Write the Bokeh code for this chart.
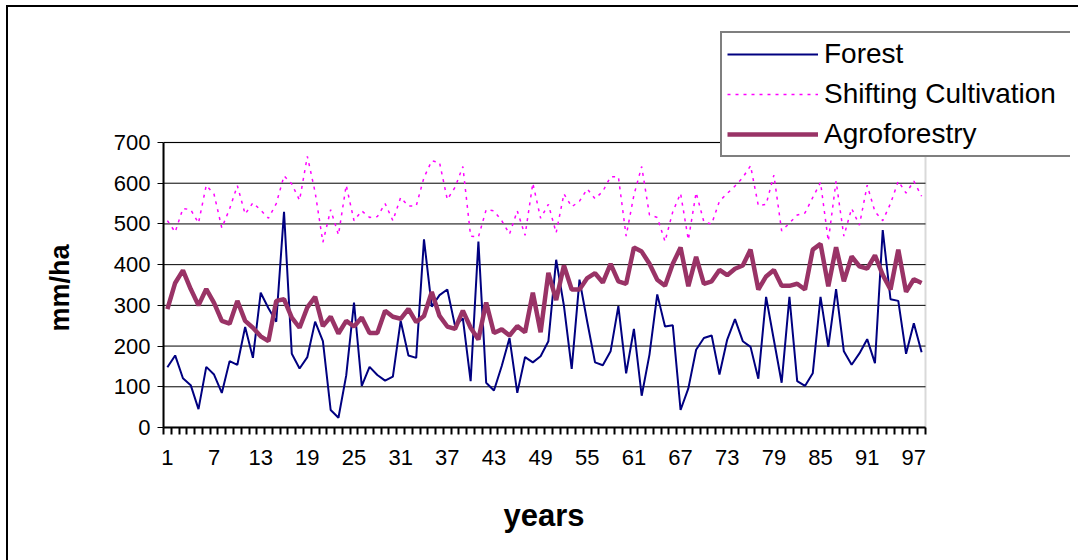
from bokeh.plotting import figure
from bokeh.models import FixedTicker, Legend, LegendItem, Range1d, BoxAnnotation, Title
from bokeh.embed import file_html
from bokeh.resources import INLINE

# Annual water values (mm/ha) for three land-use types over 98 years
years = list(range(1, 99))

forest = [148, 177, 121, 104, 45, 149, 130, 85, 163, 154,
          247, 171, 331, 293, 260, 530, 181, 145, 173, 260,
          212, 43, 24, 128, 307, 102, 149, 129, 115, 125,
          262, 177, 171, 462, 297, 325, 339, 249, 268, 114,
          457, 110, 91, 151, 220, 85, 173, 160, 175, 212,
          412, 299, 144, 363, 259, 160, 153, 187, 298, 133,
          242, 78, 179, 327, 248, 251, 43, 96, 191, 220,
          226, 130, 216, 266, 212, 198, 120, 321, 215, 110,
          321, 114, 102, 133, 321, 198, 340, 187, 154, 182,
          217, 158, 485, 315, 311, 181, 256, 185]

shifting_cultivation = [508, 480, 538, 535, 502, 595, 573, 490, 537, 594,
                        524, 552, 534, 514, 550, 618, 598, 558, 666, 578,
                        455, 535, 473, 595, 508, 532, 516, 518, 550, 508,
                        565, 544, 544, 614, 655, 651, 560, 590, 641, 470,
                        468, 535, 532, 508, 475, 532, 472, 600, 514, 548,
                        478, 574, 542, 556, 586, 562, 580, 616, 616, 470,
                        571, 641, 522, 516, 457, 530, 575, 461, 577, 505,
                        500, 556, 575, 593, 614, 643, 545, 548, 620, 483,
                        502, 522, 527, 565, 602, 458, 605, 470, 538, 497,
                        595, 530, 508, 550, 605, 576, 605, 568]

agroforestry = [291, 355, 386, 340, 300, 340, 306, 262, 255, 311,
                262, 245, 224, 212, 311, 315, 270, 245, 295, 321,
                249, 272, 231, 262, 248, 270, 232, 232, 287, 272,
                267, 291, 259, 274, 333, 274, 248, 242, 287, 245,
                216, 307, 232, 241, 226, 249, 234, 331, 234, 380,
                313, 398, 339, 339, 367, 379, 356, 402, 359, 353,
                442, 432, 402, 363, 348, 402, 442, 347, 419, 353,
                359, 387, 374, 390, 398, 437, 339, 371, 387, 348,
                348, 353, 339, 437, 451, 347, 443, 359, 420, 396,
                390, 423, 375, 339, 437, 333, 364, 355]

year_labels = list(range(1, 98, 6))
value_ticks = [0, 100, 200, 300, 400, 500, 600, 700]

FONT = "Liberation Sans"

# canvas geometry (px); the frame is extended up and to the right so the
# legend, which overlaps the plot area's corner, is not clipped
CANVAS_W, CANVAS_H = 1090, 560
PLOT_LEFT, PLOT_TOP, PLOT_W, PLOT_H = 155, 135, 762, 285
FRAME_TOP, FRAME_RIGHT = 16, 1062
PLOT_BOTTOM = PLOT_TOP + PLOT_H

x_lo = years[0] - 0.5
x_hi = years[-1] + 0.5
y_lo, y_hi = value_ticks[0], value_ticks[-1]
x_end = x_lo + (x_hi - x_lo) * (FRAME_RIGHT - PLOT_LEFT) / PLOT_W
y_end = y_lo + (y_hi - y_lo) * (PLOT_BOTTOM - FRAME_TOP) / PLOT_H

p = figure(width=CANVAS_W, height=CANVAS_H,
           x_range=Range1d(x_lo, x_end),
           y_range=Range1d(y_lo, y_end),
           output_backend="svg", toolbar_location=None,
           min_border_left=PLOT_LEFT,
           min_border_right=CANVAS_W - FRAME_RIGHT,
           min_border_top=FRAME_TOP,
           min_border_bottom=CANVAS_H - PLOT_BOTTOM,
           background_fill_color="white", border_fill_color=None)

# chart-area frame: left and top rules of the outer border
p.styles = {"margin-left": "8px", "margin-top": "7px",
            "box-shadow": "-2px -2px 0px 0px black"}

p.outline_line_color = None
p.xgrid.grid_line_color = None
p.ygrid.grid_line_color = None

# plot-area border
p.add_layout(BoxAnnotation(left=x_lo, right=x_hi, bottom=y_lo, top=y_hi,
                           fill_alpha=0, line_color="#808080", line_width=2,
                           level="underlay"))

# horizontal gridlines across the plot area only
p.segment(x0=[x_lo] * len(value_ticks), x1=[x_hi] * len(value_ticks),
          y0=value_ticks, y1=value_ticks, line_color="black", line_width=1)

# x axis: labels every sixth year, tick marks between categories
xa = p.xaxis[0]
xa.bounds = (x_lo, x_hi)
xa.ticker = FixedTicker(ticks=year_labels,
                        minor_ticks=[y - 0.5 for y in years] + [x_hi])
xa.axis_line_width = 2
xa.axis_line_color = "black"
xa.major_tick_line_color = None
xa.major_tick_out = 7
xa.major_tick_in = 0
xa.minor_tick_line_color = "black"
xa.minor_tick_line_width = 2
xa.minor_tick_out = 7
xa.minor_tick_in = 0
xa.major_label_standoff = 15
xa.major_label_text_font = FONT
xa.major_label_text_font_size = "22px"
xa.major_label_text_color = "black"

ya = p.yaxis[0]
ya.bounds = (y_lo, y_hi)
ya.ticker = FixedTicker(ticks=value_ticks)
ya.axis_line_width = 2
ya.axis_line_color = "black"
ya.major_tick_line_color = "black"
ya.major_tick_line_width = 1
ya.major_tick_out = 6
ya.major_tick_in = 0
ya.minor_tick_line_color = None
ya.major_label_standoff = 7
ya.major_label_text_font = FONT
ya.major_label_text_font_size = "22px"
ya.major_label_text_color = "black"

# axis titles, placed under / beside the plot area rather than the whole frame
p.add_layout(Title(text="years", align="left", offset=340,
                   text_font=FONT, text_font_style="bold",
                   text_font_size="31px", text_color="black",
                   standoff=57), "below")
p.add_layout(Title(text="mm/ha", align="left", offset=96,
                   vertical_align="top",
                   text_font=FONT, text_font_style="bold",
                   text_font_size="27px", text_color="black",
                   standoff=68), "left")

r_forest = p.line(years, forest, line_color="#000080", line_width=2)
r_shift = p.line(years, shifting_cultivation, line_color="#FF00FF",
                 line_width=1.5, line_dash="3 5")
r_agro = p.line(years, agroforestry, line_color="#993366", line_width=4.5)

legend = Legend(items=[LegendItem(label="Forest", renderers=[r_forest]),
                       LegendItem(label="Shifting Cultivation", renderers=[r_shift]),
                       LegendItem(label="Agroforestry", renderers=[r_agro])],
                location=(557, 270))
legend.border_line_color = "black"
legend.border_line_width = 2
legend.background_fill_color = "white"
legend.background_fill_alpha = 1
legend.label_text_font = FONT
legend.label_text_font_size = "28px"
legend.label_text_color = "black"
legend.glyph_width = 91
legend.glyph_height = 28
legend.label_height = 28
legend.label_width = 241
legend.label_standoff = 6
legend.spacing = 8
legend.padding = 5
legend.margin = 0
p.add_layout(legend, "center")

open("out.html", "w").write(file_html(p, INLINE))
